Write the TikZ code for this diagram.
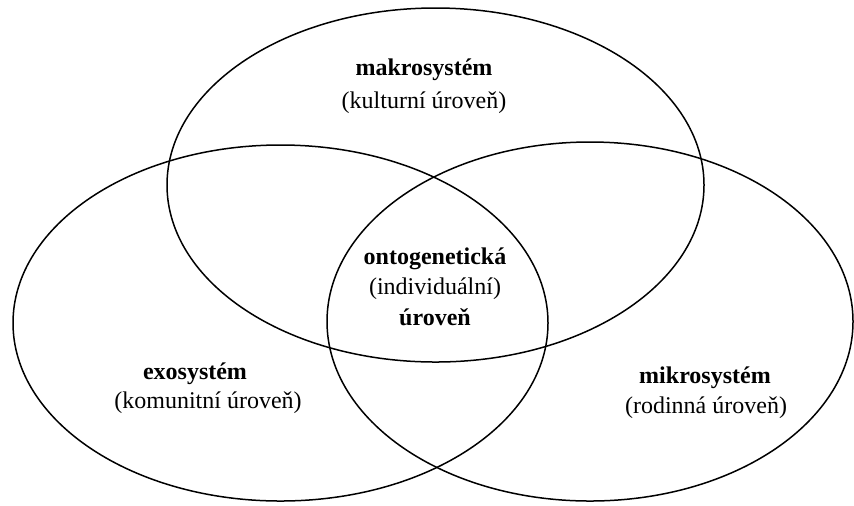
\documentclass[tikz,border=0pt]{standalone}
\usepackage{fontspec}
\setmainfont{Liberation Serif}
\begin{document}
\begin{tikzpicture}[x=0.5pt,y=-0.5pt,
  ring/.style={draw=black, line width=0.75pt},
  lbl/.style={anchor=base, inner sep=0pt, font=\fontsize{12pt}{14.5pt}\selectfont},
  bl/.style={lbl, font=\fontsize{12pt}{14.5pt}\selectfont\bfseries}]
\useasboundingbox (0,0) rectangle (854,505);
% ellipses
\draw[ring] (435.5,185) ellipse [x radius=268.5, y radius=177];
\draw[ring] (280.5,323) ellipse [x radius=267.5, y radius=178];
\draw[ring] (590,321.5) ellipse [x radius=263, y radius=179.5];
% labels
\node[bl]  (makro)  at (424,75)  {makrosystém};
\node[lbl] (makro2) at (424,108) {(kulturní úroveň)};
\node[bl]  (onto)   at (435,264) {ontogenetická};
\node[lbl] (onto2)  at (435,294) {(individuální)};
\node[bl]  (onto3)  at (435,325) {úroveň};
\node[bl]  (exo)    at (195,379) {exosystém};
\node[lbl] (exo2)   at (208,408) {(komunitní úroveň)};
\node[bl]  (mikro)  at (705,383) {mikrosystém};
\node[lbl] (mikro2) at (706,413) {(rodinná úroveň)};
\end{tikzpicture}
\end{document}
